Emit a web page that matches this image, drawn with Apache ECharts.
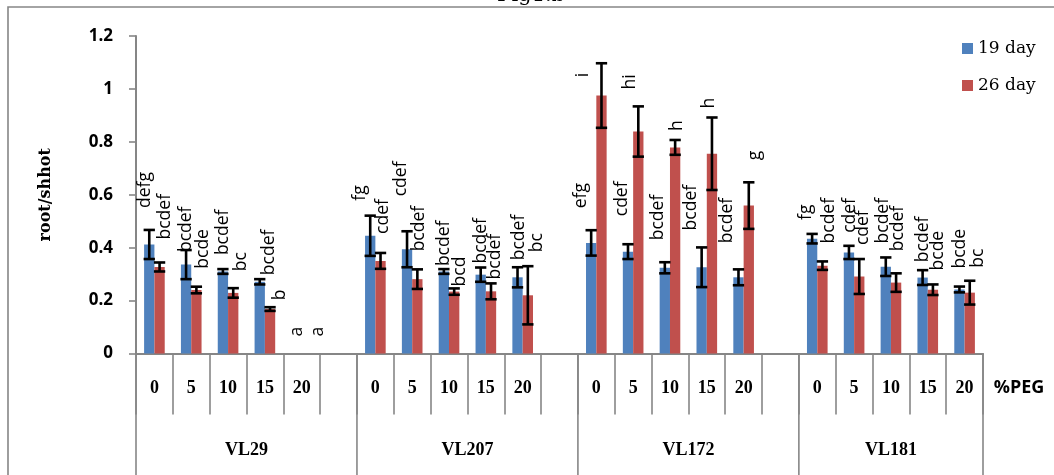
<!DOCTYPE html>
<html>
<head>
<meta charset="utf-8">
<script src="https://cdn.jsdelivr.net/npm/echarts@6/dist/echarts.min.js"></script>
<style>
  html, body { margin: 0; padding: 0; background: #fff; }
  #chart { width: 1054px; height: 475px; }
</style>
</head>
<body>
<div id="chart"></div>
<script>
// ---- data -------------------------------------------------------------
// PEG level per slot; each line gets five levels plus an empty spacer slot
const categories = [
  '0', '5', '10', '15', '20', '',
  '0', '5', '10', '15', '20', '',
  '0', '5', '10', '15', '20', '',
  '0', '5', '10', '15', '20'
];
const lines = ['VL29', 'VL207', 'VL172', 'VL181'];
const lineSlots = [6, 6, 6, 5];

// root/shoot ratio, 19 days
const day19 = [
  0.412, 0.336, 0.310, 0.271, 0, null,
  0.445, 0.394, 0.310, 0.298, 0.288, null,
  0.418, 0.385, 0.324, 0.326, 0.288, null,
  0.434, 0.382, 0.328, 0.287, 0.242
];
const day19Err = [
  0.055, 0.055, 0.009, 0.010, 0, null,
  0.076, 0.068, 0.009, 0.027, 0.038, null,
  0.048, 0.028, 0.021, 0.075, 0.030, null,
  0.018, 0.025, 0.035, 0.028, 0.011
];
const day19Letters = [
  'defg', 'bcdef', 'bcdef', 'bcdef', 'a', '',
  'fg', 'cdef', 'bcdef', 'bcdef', 'bcdef', '',
  'efg', 'cdef', 'bcdef', 'bcdef', 'bcdef', '',
  'fg', 'cdef', 'bcdef', 'bcdef', 'bcde'
];

// root/shoot ratio, 26 days
const day26 = [
  0.327, 0.240, 0.229, 0.168, 0, null,
  0.350, 0.281, 0.234, 0.235, 0.220, null,
  0.975, 0.839, 0.779, 0.755, 0.559, null,
  0.332, 0.291, 0.268, 0.241, 0.230
];
const day26Err = [
  0.017, 0.0125, 0.018, 0.007, 0, null,
  0.030, 0.037, 0.012, 0.030, 0.110, null,
  0.122, 0.095, 0.028, 0.137, 0.088, null,
  0.016, 0.066, 0.035, 0.020, 0.045
];
const day26Letters = [
  'bcdef', 'bcde', 'bc', 'b', 'a', '',
  'cdef', 'bcdef', 'bcd', 'bcdef', 'bc', '',
  'i', 'hi', 'h', 'h', 'g', '',
  'bcdef', 'cdef', 'bcdef', 'bcde', 'bc'
];

// ---- letter placement (px above the error-bar top, px sideways) -------
const letterLift19 = [22, -2, 14, 4, 17, 0, 15, 35, 3, 4, 7, 0, 22, 28, 22, 17, 26, 0, 14, 13, 14, 8, 18];
const letterShift19 = [-4, 0, 0, 9, 0, 0, -10, -6, 0, 0, 1, 0, -10, -6, -7, -11, -11, 0, -6, 1, -3, 0, 1];
const letterLift26 = [23, 18, 17, 7, 17, 0, 19, 18, 2, 4, 14, 0, -14, 17, 9, 9, 22, 0, 18, 14, 22, 14, 13];
const letterShift26 = [5, 7, 8, 10, 11, 0, 2, 2, 6, 4, 9, 0, -18, -8, 2, -3, 6, 0, 7, 4, 2, 5, 8];

// ---- styling ----------------------------------------------------------
const BLUE = '#4F81BD';
const RED = '#C0504D';
const AXIS_GREY = '#868686';
const BAR_FRACTION = 0.28;

const chart = echarts.init(document.getElementById('chart'), null, { renderer: 'canvas' });

// error bars with their significance letters, drawn over one bar series
function errorSeries(name, values, errs, letters, lift, shift, side) {
  const rows = [];
  values.forEach((v, i) => { if (v !== null) rows.push([i, v, errs[i]]); });
  return {
    type: 'custom',
    name: name,
    coordinateSystem: 'cartesian2d',
    silent: true,
    clip: false,
    z: 5,
    encode: { x: 0, y: 1 },
    data: rows,
    renderItem: function (params, api) {
      const i = api.value(0);
      const v = api.value(1);
      const e = api.value(2);
      const band = api.size([1, 0])[0];
      const bw = band * BAR_FRACTION;
      const x = api.coord([i, v])[0] + side * bw / 2;
      const yTop = api.coord([i, v + e])[1];
      const yBot = api.coord([i, v - e])[1];
      const cap = bw / 2 + 0.5;
      const stroke = { stroke: '#000', lineWidth: 2.6 };
      const children = [];
      if (e > 0) {
        children.push({ type: 'line', shape: { x1: x, y1: yTop, x2: x, y2: yBot }, style: stroke });
        children.push({ type: 'line', shape: { x1: x - cap, y1: yTop, x2: x + cap, y2: yTop }, style: stroke });
        children.push({ type: 'line', shape: { x1: x - cap, y1: yBot, x2: x + cap, y2: yBot }, style: stroke });
      }
      children.push({
        type: 'text',
        x: x + shift[i],
        y: yTop - lift[i],
        rotation: Math.PI / 2,
        style: {
          text: letters[i],
          font: '17.5px "Open Sans"',
          fill: '#000',
          align: 'left',
          verticalAlign: 'middle'
        }
      });
      return { type: 'group', children: children };
    }
  };
}

// second tier of the category axis: line names and long separators
const lineStarts = [];
lineSlots.reduce((acc, n) => { lineStarts.push(acc); return acc + n; }, 0);

const groupSeries = {
  type: 'custom',
  name: 'lines',
  coordinateSystem: 'cartesian2d',
  silent: true,
  clip: false,
  z: 4,
  encode: { x: 0, y: 1 },
  data: lineStarts.map((s, k) => [s, 0, lineSlots[k]]),
  renderItem: function (params, api) {
    const s = api.value(0);
    const n = api.value(2);
    const band = api.size([1, 0])[0];
    const p = api.coord([s, 0]);
    const x0 = p[0] - band / 2;
    const x1 = x0 + n * band;
    const y0 = p[1];
    const H = api.getHeight();
    const stroke = { stroke: AXIS_GREY, lineWidth: 1.6 };
    const children = [
      { type: 'line', shape: { x1: x0, y1: y0, x2: x0, y2: H }, style: stroke },
      {
        type: 'text',
        x: (x0 + x1) / 2,
        y: y0 + 96.5,
        style: {
          text: lines[params.dataIndex],
          font: 'bold 18px "Liberation Serif"',
          fill: '#000',
          align: 'center',
          verticalAlign: 'middle'
        }
      }
    ];
    if (params.dataIndex === lines.length - 1) {
      children.push({ type: 'line', shape: { x1: x1, y1: y0, x2: x1, y2: H }, style: stroke });
    }
    return { type: 'group', children: children };
  }
};

chart.setOption({
  animation: false,
  backgroundColor: '#fff',
  grid: { left: 136, right: 71, top: 36, bottom: 121.5, containLabel: false },
  legend: {
    data: ['19 day', '26 day'],
    orient: 'vertical',
    left: 957,
    top: 35,
    itemWidth: 11,
    itemHeight: 11,
    itemGap: 20,
    icon: 'rect',
    selectedMode: false,
    textStyle: { fontFamily: 'DejaVu Serif', fontSize: 17, color: '#000' }
  },
  xAxis: {
    type: 'category',
    data: categories,
    boundaryGap: true,
    axisLine: { show: true, lineStyle: { color: AXIS_GREY, width: 2 } },
    axisTick: { show: true, interval: 0, length: 61, lineStyle: { color: AXIS_GREY, width: 1.6 } },
    axisLabel: {
      interval: 0,
      margin: 35,
      verticalAlign: 'middle',
      fontFamily: 'Liberation Serif',
      fontWeight: 'bold',
      fontSize: 18,
      color: '#000'
    },
    splitLine: { show: false }
  },
  yAxis: {
    type: 'value',
    min: 0,
    max: 1.2,
    interval: 0.2,
    name: 'root/shhot',
    nameLocation: 'middle',
    nameRotate: 90,
    nameGap: 82,
    nameTextStyle: { fontFamily: 'DejaVu Serif', fontWeight: 'bold', fontSize: 16, color: '#000' },
    axisLine: { show: true, lineStyle: { color: AXIS_GREY, width: 2 } },
    axisTick: { show: true, length: 7, lineStyle: { color: AXIS_GREY, width: 1.6 } },
    axisLabel: { margin: 23, fontFamily: 'Open Sans', fontWeight: 'bold', fontSize: 17, color: '#000' },
    splitLine: { show: false }
  },
  series: [
    {
      type: 'bar',
      name: '19 day',
      data: day19,
      barWidth: (BAR_FRACTION * 100) + '%',
      barGap: '0%',
      itemStyle: { color: BLUE }
    },
    {
      type: 'bar',
      name: '26 day',
      data: day26,
      barWidth: (BAR_FRACTION * 100) + '%',
      barGap: '0%',
      itemStyle: { color: RED }
    },
    errorSeries('19 day error', day19, day19Err, day19Letters, letterLift19, letterShift19, -1),
    errorSeries('26 day error', day26, day26Err, day26Letters, letterLift26, letterShift26, 1),
    groupSeries
  ],
  graphic: [
    {
      type: 'rect',
      silent: true,
      z: -1,
      shape: { x: 8, y: 7, width: 1200, height: 600 },
      style: { fill: 'none', stroke: AXIS_GREY, lineWidth: 1.6 }
    },
    {
      type: 'text',
      silent: true,
      x: 531,
      y: 6,
      style: {
        text: 'Fig1.b',
        font: '21px "DejaVu Serif"',
        fill: '#000',
        align: 'center',
        verticalAlign: 'bottom'
      }
    },
    {
      type: 'text',
      silent: true,
      x: 1019,
      y: 388,
      style: {
        text: '%PEG',
        font: 'bold 18px "Open Sans"',
        fill: '#000',
        align: 'center',
        verticalAlign: 'middle'
      }
    }
  ]
});
</script>
</body>
</html>
